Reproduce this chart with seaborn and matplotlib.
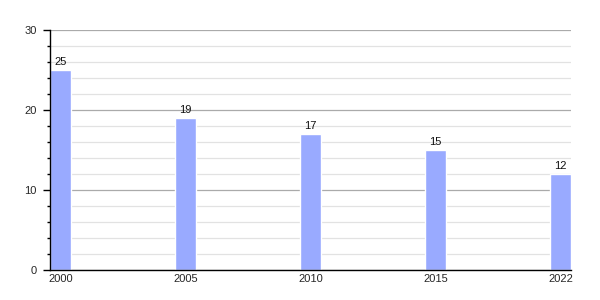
import matplotlib
matplotlib.use("Agg")
import matplotlib.pyplot as plt
import seaborn as sns
import pandas as pd
from matplotlib.ticker import MultipleLocator

years = ["2000", "2005", "2010", "2015", "2022"]
values = [25, 19, 17, 15, 12]

df = pd.DataFrame({"year": years, "value": values})

sns.set_style("white")
plt.rcParams['font.family'] = ['Liberation Sans', 'DejaVu Sans']

fig = plt.figure(figsize=(6, 3), dpi=100)
ax = fig.add_axes([50/600, 0.1, 521/600, 0.8])

sns.barplot(data=df, x="year", y="value", color="#99aaff", width=0.168,
            saturation=1, ax=ax, zorder=3)

ax.set_xlim(-0.084, 4.084)
ax.set_ylim(0, 30)
ax.yaxis.set_major_locator(MultipleLocator(10))
ax.yaxis.set_minor_locator(MultipleLocator(2))
ax.grid(which="major", axis="y", color="#aaaaaa", linewidth=0.9, zorder=0)
ax.grid(which="minor", axis="y", color="#e2e2e2", linewidth=0.9, zorder=0)
ax.set_axisbelow(True)

for s in ["top", "right"]:
    ax.spines[s].set_visible(False)
for s in ["left", "bottom"]:
    ax.spines[s].set_color("black")
    ax.spines[s].set_linewidth(1)
    ax.spines[s].set_zorder(4)

ax.tick_params(axis="y", which="major", length=5, width=1, color="black",
               labelsize=8, pad=4.5, left=True)
ax.tick_params(axis="y", which="minor", length=2.5, width=1, color="black", left=True)
ax.tick_params(axis="x", length=0, labelsize=8, pad=3)
ax.set_xlabel("")
ax.set_ylabel("")

for i, v in enumerate(values):
    ax.text(i, v + 0.4, str(v), ha="center", va="bottom", fontsize=8, color="#111111")

fig.savefig("out.png", dpi=100)
